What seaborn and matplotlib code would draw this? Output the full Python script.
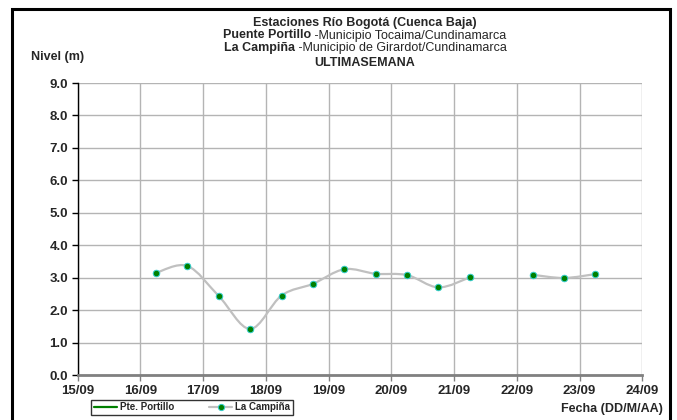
import numpy as np
import pandas as pd
import matplotlib
matplotlib.use("Agg")
import matplotlib.pyplot as plt
import matplotlib.dates as mdates
from matplotlib.path import Path
from matplotlib.patches import PathPatch, Rectangle
from matplotlib.lines import Line2D
import seaborn as sns

# lecturas cada 12 h (06:00 y 18:00); NaN = sin dato
fechas = ["2023-09-16 06:00", "2023-09-16 18:00", "2023-09-17 06:00", "2023-09-17 18:00",
          "2023-09-18 06:00", "2023-09-18 18:00", "2023-09-19 06:00", "2023-09-19 18:00",
          "2023-09-20 06:00", "2023-09-20 18:00", "2023-09-21 06:00", "2023-09-21 18:00",
          "2023-09-22 06:00", "2023-09-22 18:00", "2023-09-23 06:00"]
la_campina = [3.15, 3.36, 2.43, 1.42, 2.45, 2.81, 3.26, 3.12, 3.08, 2.70, 3.01, np.nan,
              3.09, 2.99, 3.11]
pte_portillo = [np.nan] * len(fechas)

x_ini, x_fin = "2023-09-15", "2023-09-24"
y_ticks = [0, 1, 2, 3, 4, 5, 6, 7, 8, 9]

df = pd.DataFrame({"Fecha": pd.to_datetime(fechas), "La Campiña": la_campina,
                   "Pte. Portillo": pte_portillo})

sns.set_style("white")
plt.rcParams["font.family"] = ["Liberation Sans", "DejaVu Sans"]

W, H = 677, 420
fig = plt.figure(figsize=(W / 100, H / 100), dpi=100)
ax = fig.add_axes([77.7 / W, 1 - 375 / H, (642.3 - 77.7) / W, (375 - 83) / H])

# marco exterior
fig.add_artist(Rectangle((12 / W, -0.05), (670 - 12) / W, (H - 9) / H + 0.05,
                         transform=fig.transFigure, fill=False, lw=2.2, ec="black"))


# linea suavizada (tipo Excel) por tramos separados por NaN
def tramo_suave(xs, ys):
    n = len(xs)
    if n < 2:
        return None
    P = np.column_stack([xs, ys])
    verts = [P[0]]
    codes = [Path.MOVETO]
    for i in range(n - 1):
        p0 = P[i - 1] if i > 0 else P[i]
        p3 = P[i + 2] if i + 2 < n else P[i + 1]
        c1 = P[i] + (P[i + 1] - p0) / 6
        c2 = P[i + 1] - (p3 - P[i]) / 6
        verts += [c1, c2, P[i + 1]]
        codes += [Path.CURVE4] * 3
    return Path(verts, codes)


xnum = mdates.date2num(df["Fecha"])
yv = df["La Campiña"].to_numpy()
grupo = np.cumsum(np.isnan(yv))
for g in np.unique(grupo):
    m = (grupo == g) & ~np.isnan(yv)
    p = tramo_suave(xnum[m], yv[m])
    if p is not None:
        ax.add_patch(PathPatch(p, fill=False, ec="#c0c0c0", lw=1.6, zorder=3))

sns.scatterplot(data=df, x="Fecha", y="La Campiña", ax=ax, color="#008000",
                edgecolor="#33cccc", linewidth=0.7, s=22, zorder=4, legend=False)
ax.plot(df["Fecha"], df["Pte. Portillo"], color="#008000", lw=1.5)

ax.set_xlim(pd.Timestamp(x_ini), pd.Timestamp(x_fin))
ax.set_ylim(0, 9)
ax.set_yticks(y_ticks)
ax.yaxis.set_major_formatter(matplotlib.ticker.FormatStrFormatter("%.1f"))
ax.xaxis.set_major_locator(mdates.DayLocator())
ax.xaxis.set_major_formatter(mdates.DateFormatter("%d/%m"))
ax.set_xlabel("")
ax.set_ylabel("")

ax.grid(True, color="#b4b4b4", lw=1.0)
ax.set_axisbelow(True)
for s in ["top", "right"]:
    ax.spines[s].set_visible(False)
ax.spines["left"].set_color("black")
ax.spines["left"].set_linewidth(1.0)
ax.spines["bottom"].set_color("#808080")
ax.spines["bottom"].set_linewidth(2.0)
ax.tick_params(axis="y", direction="out", length=4, width=1, color="black",
               labelsize=9.5, pad=3, left=True)
ax.tick_params(axis="x", direction="out", length=4, width=1, color="#808080",
               labelsize=9.5, pad=3, bottom=True)
for lb in ax.get_xticklabels() + ax.get_yticklabels():
    lb.set_fontweight("bold")

fig.text(58 / W, 1 - 57 / H, "Nivel (m)", weight="bold", size=9, ha="center", va="center")
fig.text(663 / W, 1 - 409 / H, "Fecha (DD/M/AA)", weight="bold", size=9,
         ha="right", va="center")

# titulos
cx = 365
fig.text(cx / W, 1 - 22.7 / H, "Estaciones Río Bogotá (Cuenca Baja)", weight="bold",
         size=9, ha="center", va="center")
fig.text(cx / W, 1 - 63 / H, "ULTIMASEMANA", weight="bold", size=9, ha="center", va="center")

renderer = fig.canvas.get_renderer()


def linea_mixta(ypx, negrita, normal, size=9):
    tb = fig.text(0, 1 - ypx / H, negrita, weight="bold", size=size, ha="left", va="center")
    tn = fig.text(0, 1 - ypx / H, normal, size=size, ha="left", va="center")
    wb = tb.get_window_extent(renderer).width
    wn = tn.get_window_extent(renderer).width
    x0 = cx - (wb + wn) / 2
    tb.set_x(x0 / W)
    tn.set_x((x0 + wb) / W)


linea_mixta(35.5, "Puente Portillo", " -Municipio Tocaima/Cundinamarca")
linea_mixta(48.5, "La Campiña", " -Municipio de Girardot/Cundinamarca")

handles = [Line2D([], [], color="#008000", lw=1.6),
           Line2D([], [], color="#c0c0c0", lw=1.6, marker="o", ms=4.5,
                  mfc="#008000", mec="#33cccc", mew=0.7)]
leg = fig.legend(handles, ["Pte. Portillo", "La Campiña"], ncol=2, loc="center",
                 bbox_to_anchor=(192 / W, 1 - 407.5 / H), frameon=True, fancybox=False,
                 prop={"weight": "bold", "size": 7}, handlelength=2.4, handletextpad=0.3,
                 columnspacing=3.6, borderpad=0.3, borderaxespad=0)
leg.get_frame().set_edgecolor("black")
leg.get_frame().set_linewidth(1.0)

fig.savefig("out.png", dpi=100)
